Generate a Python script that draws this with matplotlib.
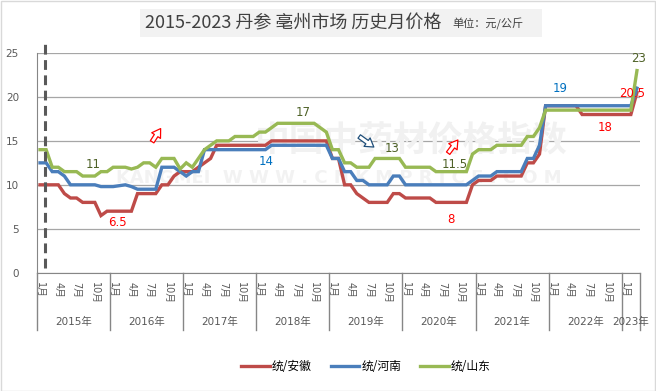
import matplotlib
matplotlib.use('Agg')
import matplotlib.pyplot as plt
import matplotlib.transforms as mtransforms
from matplotlib.lines import Line2D
from matplotlib.patches import Rectangle

plt.rcParams['font.family'] = ['DejaVu Sans', 'Noto Sans CJK SC']

# ---------------- data ----------------
years = ['2015年', '2016年', '2017年', '2018年', '2019年', '2020年', '2021年', '2022年', '2023年']
months_per_year = [12, 12, 12, 12, 12, 12, 12, 12, 3]
month_labels = ['1月', '4月', '7月', '10月']
series_names = ['统/安徽', '统/河南', '统/山东']

anhui = ([10] * 4 + [9] + [8.5] * 2 + [8] * 3 + [6.5] + [7] * 5 + [9] * 4 + [10] * 2 + [11]
         + [11.5] * 3 + [12, 12.5, 13] + [14.5] * 9 + [15] * 10 + [13] * 2 + [10] * 2 + [9, 8.5]
         + [8] * 4 + [9] * 2 + [8.5] * 5 + [8] * 6 + [10] + [10.5] * 3 + [11] * 5 + [12.5] * 2
         + [13.5] + [19] * 6 + [18] * 9 + [20.5])

henan = ([12.5] * 2 + [11.5] * 2 + [11] + [10] * 5 + [9.8] * 3 + [9.9, 10, 9.8] + [9.5] * 4
         + [12] * 3 + [11.5, 11] + [11.5] * 2 + [14] * 11 + [14.5] * 10 + [13] * 2 + [11.5] * 2
         + [10.5] * 2 + [10] * 4 + [11] * 2 + [10] * 11 + [10.5] + [11] * 3 + [11.5] * 5 + [13] * 2
         + [14.5] + [19] * 15 + [21])

shandong = ([14] * 2 + [12] * 2 + [11.5] * 3 + [11] * 3 + [11.5] * 2 + [12] * 3 + [11.8, 12]
            + [12.5] * 2 + [12] + [13] * 3 + [11.8, 12.5, 12, 13, 14, 14.5] + [15] * 3 + [15.5] * 4
            + [16] * 2 + [16.5] + [17] * 7 + [16.5, 16] + [14] * 2 + [12.5] * 2 + [12] * 3 + [13] * 5
            + [12] * 5 + [11.5] * 6 + [13.5] + [14] * 3 + [14.5] * 5 + [15.5] * 2 + [16.5]
            + [18.5] * 15 + [23])

series = [anhui, henan, shandong]
colors = ['#BE4B48', '#4A7EBB', '#98B954']
text_colors = ['#FF0000', '#0070C0', '#4F6228']

# value labels: (series index, point index)
value_labels = [(2, 8), (0, 10), (1, 37), (2, 43), (2, 57), (2, 68), (0, 67),
                (1, 85), (0, 93), (0, 98), (2, 98)]
label_offsets = [(4, 12), (16, -7), (1, -12), (1, 11), (5, 10), (1, 7), (3, -17),
                 (2, 17), (-1, -13), (-5, -1), (2, 12)]

# ---------------- figure ----------------
W, H = 656, 391
fig = plt.figure(figsize=(W / 100, H / 100), dpi=100)
fig.patch.set_facecolor('white')
fig.patches.append(Rectangle((0.5 / W, 0.5 / H), 1 - 1.5 / W, 1 - 1.5 / H, transform=fig.transFigure,
                             fill=False, ec='#D9D9D9', lw=1))

ax_left, ax_right, ax_top, ax_bottom = 37, 640, 53, 272.7
ax = fig.add_axes([ax_left / W, 1 - ax_bottom / H, (ax_right - ax_left) / W, (ax_bottom - ax_top) / H])

n = len(anhui)
xs = list(range(n))

# watermark
ax.text(0.62, 0.60, '中国中药材价格指数', transform=ax.transAxes, ha='center', va='center',
        fontsize=25, fontweight='bold', color='#F1F1F1', family=['Noto Sans CJK SC'], zorder=1)
ax.text(0.5, 0.43, 'KANGMEI  W W W . C N K M P R I C E . C O M', transform=ax.transAxes,
        ha='center', va='center', fontsize=13, fontweight='bold', color='#F2F2F2', zorder=1)

for s, c in zip(series, colors):
    ax.plot(xs, s, color=c, lw=2.4, solid_joinstyle='miter', zorder=3)

ax.set_xlim(-0.5, n - 0.5)
ax.set_ylim(0, 25)
ax.set_yticks([0, 5, 10, 15, 20, 25])
ax.tick_params(axis='y', length=0, pad=13, labelsize=7.5, labelcolor='#595959')
ax.set_xticks([])
ax.yaxis.grid(True, color='#A6A6A6', lw=0.9)
ax.set_axisbelow(True)
for sp in ['top', 'right']:
    ax.spines[sp].set_visible(False)
ax.spines['left'].set_color('#868686')
ax.spines['bottom'].set_color('#868686')

# dashed divider
ax.plot([0.86, 0.86], [0.5, 26.5], color='#595959', lw=2.2, dashes=(3.2, 1.8), clip_on=False, zorder=4)

# value labels
for (si, idx), (dx, dy) in zip(value_labels, label_offsets):
    v = series[si][idx]
    ax.annotate(f'{v:g}', xy=(idx, v), xytext=(dx, dy), textcoords='offset pixels',
                ha='center', va='center', fontsize=8.5, color=text_colors[si],
                annotation_clip=False, zorder=5)

# hollow arrows
def hollow_arrow(x0, y0, x1, y1, ec):
    ax.annotate('', xy=(x1, y1), xytext=(x0, y0),
                arrowprops=dict(arrowstyle='simple,head_width=0.75,head_length=0.6,tail_width=0.3',
                                fc='white', ec=ec, lw=0.9, mutation_scale=10, shrinkA=0, shrinkB=0),
                zorder=5)

hollow_arrow(18.4, 14.9, 19.8, 16.4, '#FF0000')
hollow_arrow(52.4, 15.5, 54.8, 14.3, '#1F4E79')
hollow_arrow(67.0, 13.6, 68.6, 15.1, '#FF0000')

# multi-level category axis
trans = mtransforms.blended_transform_factory(ax.transData, ax.transAxes)
axh = ax_bottom - ax_top
start = 0
bounds = [-0.5]
for yr, m in zip(years, months_per_year):
    for k, lab in enumerate(month_labels):
        mi = k * 3
        if mi < m:
            ax.text(start + mi, -9.5 / axh, lab, transform=trans, rotation=-90, ha='center', va='top',
                    fontsize=7, color='#595959', family=['DejaVu Sans', 'Noto Sans CJK SC'])
    ax.text(start + m / 2 - 0.5, -49.5 / axh, yr, transform=trans, ha='center', va='center',
            fontsize=7.5, color='#595959', family=['DejaVu Sans', 'Noto Sans CJK SC'])
    start += m
    bounds.append(start - 0.5)
for b in bounds:
    ax.plot([b, b], [0, -57.5 / axh], transform=trans, color='#868686', lw=1, clip_on=False)

# title
fig.patches.append(Rectangle((140 / W, 1 - 37 / H), 402 / W, 28 / H, transform=fig.transFigure,
                             fc='#F2F2F2', ec='none'))
fig.text(145 / W, 1 - 23.5 / H, '2015-2023 丹参 亳州市场 历史月价格', ha='left', va='center',
         fontsize=13, color='#404040', family=['Noto Sans CJK SC'])
fig.text(452 / W, 1 - 24 / H, '单位：元/公斤', ha='left', va='center',
         fontsize=8, color='#404040', family=['Noto Sans CJK SC'])

# legend
handles = [Line2D([0], [0], color=c, lw=2.4) for c in colors]
fig.legend(handles, series_names, loc='center', bbox_to_anchor=(366 / W, 1 - 367 / H), ncol=3,
           frameon=False, handlelength=2.4, handletextpad=0.2, columnspacing=1.6,
           prop={'family': ['Noto Sans CJK SC'], 'size': 8.5})

fig.savefig('out.png', dpi=100, facecolor='white')
